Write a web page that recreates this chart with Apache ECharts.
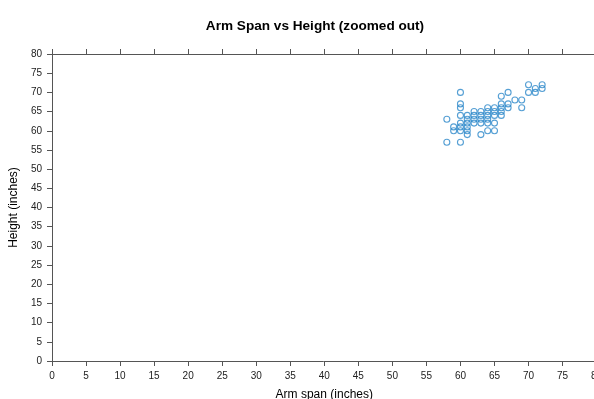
<!DOCTYPE html>
<html>
<head>
<meta charset="utf-8">
<script src="https://cdn.jsdelivr.net/npm/echarts@6/dist/echarts.min.js"></script>
<style>html,body{margin:0;padding:0;background:#fff;}#c{width:594px;height:399px;}</style>
</head>
<body>
<div id="c"></div>
<script>
const titleText = 'Arm Span vs Height (zoomed out)';
const xName = 'Arm span (inches)';
const yName = 'Height (inches)';
const armSpan = [58,58, 59,59, 60,60,60,60,60,60,60,60, 61,61,61,61,61,61, 62,62,62,62, 63,63,63,63,63, 64,64,64,64,64,64, 65,65,65,65,65, 66,66,66,66,66, 67,67,67, 68, 69,69, 70,70, 71,71, 72,72];
const height  = [63,57, 61,60, 70,67,66,64,62,61,60,57, 64,63,62,61,60,59, 65,64,63,62, 65,64,63,62,59, 66,65,64,63,62,60, 66,65,64,62,60, 69,67,66,65,64, 70,67,66, 68, 68,66, 72,70, 71,70, 72,71];

const pts = armSpan.map((v, i) => [v, height[i]]);
const chart = echarts.init(document.getElementById('c'), null, {renderer: 'canvas'});
const axisLine = {show: true, lineStyle: {color: '#555', width: 1}};
const font = 'Liberation Sans, Arial, sans-serif';
chart.setOption({
  animation: false,
  backgroundColor: '#fff',
  title: {text: titleText, left: 310, textAlign: 'center', top: 14, textStyle: {fontFamily: font, fontSize: 13.6, fontWeight: 'bold', color: '#000'}},
  grid: {left: 52, top: 54, height: 307, width: 544.6, containLabel: false, outerBoundsMode: 'none'},
  xAxis: [{
    type: 'value', min: 0, max: 80, interval: 5, position: 'bottom',
    axisLine: axisLine, axisTick: {show: true, length: 5, lineStyle: {color: '#555'}},
    splitLine: {show: false},
    axisLabel: {fontFamily: font, fontSize: 10, color: '#222', margin: 10, showMaxLabel: true},
    name: xName, nameLocation: 'middle', nameGap: 28,
    nameTextStyle: {fontFamily: font, fontSize: 12, color: '#000'}
  }, {
    type: 'value', min: 0, max: 80, interval: 5, position: 'top',
    axisLine: axisLine, axisTick: {show: true, length: 5, lineStyle: {color: '#555'}},
    splitLine: {show: false}, axisLabel: {show: false}
  }],
  yAxis: [{
    type: 'value', min: 0, max: 80, interval: 5, position: 'left',
    axisLine: axisLine, axisTick: {show: true, length: 5, lineStyle: {color: '#555'}},
    splitLine: {show: false},
    axisLabel: {fontFamily: font, fontSize: 10, color: '#222', margin: 10},
    name: yName, nameLocation: 'middle', nameGap: 25, nameRotate: 90,
    nameTextStyle: {fontFamily: font, fontSize: 12, color: '#000'}
  }],
  series: [{
    type: 'scatter', xAxisIndex: 0, yAxisIndex: 0, data: pts,
    symbol: 'circle', symbolSize: 6,
    itemStyle: {color: 'rgba(0,0,0,0)', borderColor: '#2b87c9', borderWidth: 1.1}
  }]
});
</script>
</body>
</html>
